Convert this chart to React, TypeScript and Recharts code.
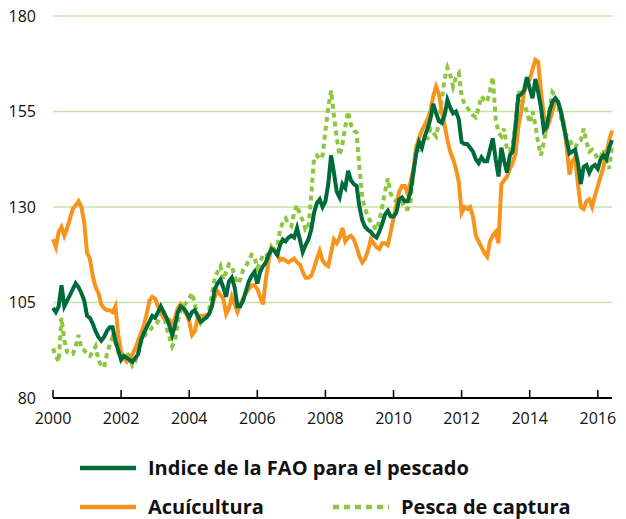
import { LineChart, Line, XAxis, YAxis, CartesianGrid } from "recharts";

// monthly values, Jan 2000 .. Jun 2016
const fao = [
  103.6, 102.5, 104, 109.5, 104, 105.5, 107, 108.5, 110, 109, 107.5, 105.5,
  101.5, 101, 99.5, 97.5, 96, 95, 96, 97.5, 98.5, 98.5, 95, 92.5,
  90, 91, 90.5, 90, 89.5, 90.5, 91.5, 95, 97, 98.5, 100, 101.5,
  101, 102.5, 104, 102.5, 101, 99, 96.5, 99, 102.5, 104, 103.5, 102.5,
  101, 102.5, 103, 101.5, 100, 100.5, 101, 102, 104, 108.5, 110, 111,
  109, 106.5, 110.5, 111.5, 109, 104, 104, 105.5, 108, 110.5, 112, 113,
  110, 113, 114.5, 115.5, 117.5, 119, 118.5, 117.5, 120, 121.5, 121, 122,
  122.5, 122, 124.5, 121.5, 118.2, 120, 121.5, 124, 128.5, 131, 132, 130,
  131.5, 136, 143.5, 139, 134, 132.5, 136, 135, 139.5, 137, 136, 135.5,
  130, 126.5, 124.8, 124, 123.5, 122.5, 122, 123.5, 125.5, 128, 129, 127.5,
  127.5, 128.5, 132, 132.5, 131.5, 131.5, 134, 139, 144, 147, 145.5, 148.5,
  150.5, 153, 157, 154.5, 152.5, 152, 154, 158, 156, 154.5, 155, 153,
  147, 146.5, 146.5, 145.5, 144.5, 142.5, 141.5, 143, 142, 142, 145, 148,
  142.5, 138, 145.5, 142, 139, 143.5, 144.5, 151, 159, 159.5, 160.5, 164,
  161, 158.5, 163.5, 160, 156, 150, 151, 155, 157.5, 158.5, 157.5, 155,
  151, 147.5, 144, 144.5, 145, 141.5, 136, 140.5, 141, 139, 140.5, 141,
  140, 142.5, 143.5, 142.5, 145.5, 147.5,
];

const acuicultura = [
  121.6, 119.5, 123.5, 124.8, 122.5, 124.5, 127, 129.5, 130.5, 131.5, 130, 126,
  118, 116.5, 112, 109, 107.5, 104.5, 103.5, 103, 103, 102.5, 104, 96.5,
  92, 90.5, 89.5, 90, 91.5, 93, 95, 97, 99, 102, 105.5, 106.5,
  106, 104, 102.5, 101, 100.5, 100.5, 99.5, 101, 103.5, 104.5, 103, 102,
  100, 96.5, 97.5, 101, 101.5, 101.5, 101.5, 102, 104, 106.5, 108, 107,
  106, 102, 103.5, 106.5, 104.5, 102.5, 104.5, 106, 107.5, 108.5, 109.5, 109.5,
  108.5, 106.5, 104.5, 111, 116, 119.5, 118.5, 118, 116, 116.5, 116, 115.5,
  116, 116.5, 115.5, 115, 113, 111.5, 111.5, 112, 114, 116.5, 118.5, 116,
  115, 114.5, 118, 121.5, 120.5, 122, 124.5, 121, 122, 122.5, 121.5, 119.5,
  117, 115.5, 116.5, 118.5, 121.5, 120.5, 119.5, 119, 120.5, 120.5, 120, 123.5,
  127, 130.5, 134, 135.5, 135.5, 133.5, 136.5, 140, 145.5, 148, 150, 151.5,
  153, 155, 159, 161.5, 159.5, 155, 151.5, 147.5, 144.5, 142.5, 140, 136.5,
  128.5, 130, 129.5, 130, 127.5, 122.5, 121, 119.5, 118, 117, 121, 122.5,
  123.5, 120.5, 136, 137, 138, 140, 141.5, 144, 151, 155, 160, 162,
  163.5, 166, 168.5, 168, 160, 154, 150.5, 152.5, 155, 157.5, 157.5, 155,
  152, 146, 138.5, 142, 143, 136, 130, 129.5, 131.5, 132, 130, 133,
  135.5, 138, 140.5, 144, 147.5, 150,
];

const captura = [
  93, 91, 89.5, 101, 95, 92, 91.5, 91.5, 93.5, 96.5, 93, 92.5,
  91.5, 91, 92, 93.5, 90, 88.5, 88, 91.5, 94, 96, 94.5, 92,
  90.5, 91.5, 92, 90.5, 88.5, 89.5, 92, 94.5, 96, 97, 97.5, 98.5,
  99, 100, 101.5, 102, 98.5, 96, 93.5, 95, 100, 103.5, 104, 105,
  106, 107.5, 104.5, 101, 99.5, 100.5, 101.5, 103, 107, 111.5, 113, 114.5,
  111, 113, 115, 114.5, 112, 110, 111, 113.5, 114.5, 116, 117.5, 117,
  114, 115.5, 117.5, 117, 118, 118.5, 119, 119.5, 124, 126, 127, 125.5,
  125, 128.5, 130.5, 128, 126.5, 124, 124.5, 133, 143, 143.5, 142.5, 143.5,
  150, 156, 160.5, 154, 148, 143.5, 146.5, 151, 155, 151.5, 150, 149.5,
  140, 132.5, 129.5, 127.5, 126, 125, 124, 126.5, 130, 134, 137.5, 133.5,
  132, 131.5, 131, 131.5, 129.5, 129.5, 131.5, 139, 145.5, 145, 147.5, 148,
  148, 150.5, 149.5, 148.5, 152, 158, 163.5, 166.5, 164.5, 161.5, 164, 165,
  159, 157, 156, 155, 154, 153.5, 156, 159, 158, 157.5, 160.5, 164,
  153, 149.5, 148.5, 150.5, 145, 144.5, 146.5, 152, 160.5, 158, 157, 155,
  152, 155, 151.5, 146.5, 143.5, 147, 151, 155.5, 160, 159, 156.5, 153.5,
  151, 148.5, 148, 146, 145.5, 147, 147.5, 150.5, 147, 144.5, 145, 144,
  142.5, 143, 145, 142, 140, 146,
];

const yearTicks = [2000, 2002, 2004, 2006, 2008, 2010, 2012, 2014, 2016];
const valueTicks = [80, 105, 130, 155, 180];

const data = fao.map((v, i) => ({
  t: 2000 + i / 12,
  fao: v,
  acuicultura: acuicultura[i],
  captura: captura[i],
}));

const DARK = "#006b3a";
const ORANGE = "#f7941d";
const LIGHT = "#8dc63f";
const FONT = "'Open Sans', 'Noto Sans', sans-serif";
const AXIS_Y = 398;

const YearTick = (props: any) => {
  const { x, payload } = props;
  return (
    <g>
      <line x1={x} x2={x} y1={AXIS_Y} y2={AXIS_Y - 8} stroke="#000" strokeWidth={1.5} />
      <text x={x} y={AXIS_Y + 26} textAnchor="middle" fontSize={16} fill="#111" fontFamily={FONT}>
        {payload.value}
      </text>
    </g>
  );
};

const LegendRow = ({ color, dashed, label, left, top }: any) => (
  <div style={{ position: "absolute", left, top, display: "flex", alignItems: "center" }}>
    <svg width={56} height={8} style={{ marginRight: 12 }}>
      <line
        x1={0}
        x2={56}
        y1={4}
        y2={4}
        stroke={color}
        strokeWidth={4.5}
        strokeDasharray={dashed ? "6 5" : undefined}
      />
    </svg>
    <span style={{ fontFamily: FONT, fontWeight: 700, fontSize: 20, color: "#111", lineHeight: "26px" }}>
      {label}
    </span>
  </div>
);

const App = () => {
  return (
    <div style={{ position: "absolute", left: 0, top: 0, width: 626, height: 519, background: "#fff" }}>
      <LineChart
        width={626}
        height={440}
        data={data}
        margin={{ top: 16, right: 14, bottom: 12, left: 8 }}
      >
        <CartesianGrid vertical={false} stroke="#c6e2a9" strokeWidth={1.5} />
        <XAxis
          dataKey="t"
          type="number"
          domain={[2000, 2000 + 197 / 12]}
          ticks={yearTicks}
          tick={<YearTick />}
          tickLine={false}
          axisLine={{ stroke: "#000", strokeWidth: 2 }}
          height={30}
          interval={0}
        />
        <YAxis
          domain={[80, 180]}
          ticks={valueTicks}
          width={45}
          axisLine={false}
          tickLine={false}
          tickSize={0}
          tickMargin={17}
          tick={{ fontSize: 16, fill: "#111", fontFamily: FONT }}
        />
        <Line
          type="linear"
          dataKey="captura"
          stroke={LIGHT}
          strokeWidth={4}
          strokeDasharray="5 4"
          dot={false}
          isAnimationActive={false}
        />
        <Line
          type="linear"
          dataKey="acuicultura"
          stroke={ORANGE}
          strokeWidth={4}
          dot={false}
          isAnimationActive={false}
        />
        <Line
          type="linear"
          dataKey="fao"
          stroke={DARK}
          strokeWidth={4}
          dot={false}
          isAnimationActive={false}
        />
      </LineChart>
      <LegendRow color={DARK} label="Indice de la FAO para el pescado" left={80} top={455} />
      <LegendRow color={ORANGE} label="Acuícultura" left={80} top={494} />
      <LegendRow color={LIGHT} dashed label="Pesca de captura" left={333} top={494} />
    </div>
  );
};

export default App;
